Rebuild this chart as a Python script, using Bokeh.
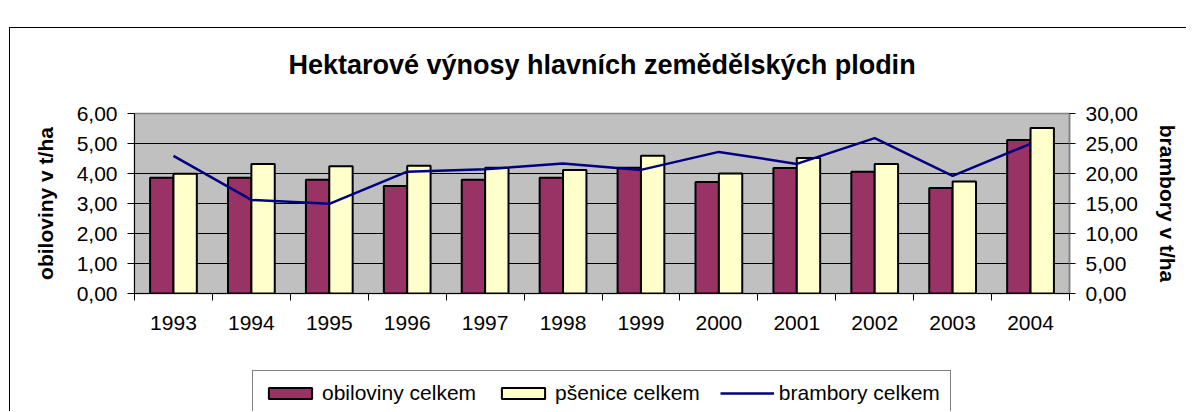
from bokeh.plotting import figure
from bokeh.layouts import column
from bokeh.models import (Range1d, LinearAxis, FixedTicker, CustomJSTickFormatter,
                          Legend, LegendItem, ColumnDataSource)
from bokeh.embed import file_html
from bokeh.resources import INLINE

years = ["1993", "1994", "1995", "1996", "1997", "1998",
         "1999", "2000", "2001", "2002", "2003", "2004"]
obiloviny = [3.86, 3.86, 3.79, 3.58, 3.79, 3.86, 4.19, 3.72, 4.18, 4.06, 3.52, 5.12]
psenice = [3.99, 4.32, 4.24, 4.26, 4.19, 4.12, 4.59, 4.00, 4.52, 4.32, 3.73, 5.52]
brambory = [22.95, 15.6, 14.95, 20.3, 20.7, 21.67, 20.6, 23.6, 21.6, 25.9, 19.6, 24.95]

left_ticks = [0, 1, 2, 3, 4, 5, 6]
right_ticks = [0, 5, 10, 15, 20, 25, 30]

pos = [i + 0.5 for i in range(len(years))]
src = ColumnDataSource(dict(
    x_o=[p - 0.15 for p in pos],
    x_p=[p + 0.15 for p in pos],
    x_c=pos,
    obiloviny=obiloviny,
    psenice=psenice,
    brambory=brambory,
))

FONT = "Liberation Sans"
C_OBI, C_PSE, C_BRA = "#993366", "#FFFFCC", "#000080"

p = figure(frame_width=935, frame_height=180,
           x_range=Range1d(0, len(years)), y_range=Range1d(0, 6),
           output_backend="svg", toolbar_location=None,
           min_border_left=125, min_border_right=117,
           min_border_top=105, min_border_bottom=55,
           background_fill_color="#C0C0C0", border_fill_alpha=0,
           outline_line_color="#808080", outline_line_width=1.5)

p.title.text = "Hektarové výnosy hlavních zemědělských plodin"
p.title.align = "center"
p.title.offset = 3
p.title.vertical_align = "bottom"
p.title.text_font = FONT
p.title.text_font_size = "27px"
p.title.text_font_style = "bold"
p.title.text_color = "black"
p.title.standoff = 68

comma_fmt = CustomJSTickFormatter(code="return tick.toFixed(2).replace('.', ',');")

# x axis
p.xaxis.ticker = FixedTicker(ticks=pos, minor_ticks=list(range(len(years) + 1)))
p.xaxis.formatter = CustomJSTickFormatter(args=dict(years=years),
                                          code="return years[Math.floor(tick)] || '';")
p.xaxis.major_tick_line_color = None
p.xaxis.major_tick_out = 0
p.xaxis.major_tick_in = 0
p.xaxis.minor_tick_line_color = "black"
p.xaxis.minor_tick_out = 7
p.xaxis.minor_tick_in = 0
p.xaxis.axis_line_color = "black"
p.xaxis.major_label_text_font = FONT
p.xaxis.major_label_text_font_size = "21px"
p.xaxis.major_label_text_color = "black"
p.xaxis.major_label_standoff = 15

# left axis
p.yaxis.ticker = FixedTicker(ticks=left_ticks)
p.yaxis.formatter = comma_fmt
p.yaxis.axis_label = "obiloviny v t/ha"
p.yaxis.axis_label_text_font = FONT
p.yaxis.axis_label_text_font_size = "21px"
p.yaxis.axis_label_text_font_style = "bold"
p.yaxis.axis_label_text_color = "black"
p.yaxis.axis_label_standoff = 17
p.yaxis.major_label_text_font = FONT
p.yaxis.major_label_text_font_size = "21px"
p.yaxis.major_label_text_color = "black"
p.yaxis.major_label_standoff = 10
p.yaxis.major_tick_out = 7
p.yaxis.major_tick_in = 0
p.yaxis.minor_tick_line_color = None
p.yaxis.axis_line_color = "black"

# right axis
p.extra_y_ranges = {"b": Range1d(0, 30)}
ax_r = LinearAxis(y_range_name="b", ticker=FixedTicker(ticks=right_ticks),
                  formatter=comma_fmt, axis_label="brambory v t/ha")
ax_r.axis_label_text_font = FONT
ax_r.axis_label_text_font_size = "21px"
ax_r.axis_label_text_font_style = "bold"
ax_r.axis_label_text_color = "black"
ax_r.axis_label_standoff = 15
ax_r.major_label_text_font = FONT
ax_r.major_label_text_font_size = "21px"
ax_r.major_label_text_color = "black"
ax_r.major_label_standoff = 10
ax_r.major_tick_out = 6
ax_r.major_tick_in = 0
ax_r.minor_tick_line_color = None
ax_r.axis_line_color = "#808080"
ax_r.axis_line_width = 1.5
p.add_layout(ax_r, "right")

p.xgrid.visible = False
p.ygrid.ticker = FixedTicker(ticks=[1, 2, 3, 4, 5])
p.ygrid.grid_line_color = "black"
p.ygrid.grid_line_width = 1

p.vbar(x="x_o", top="obiloviny", width=0.3, source=src,
       fill_color=C_OBI, line_color="black", line_width=2)
p.vbar(x="x_p", top="psenice", width=0.3, source=src,
       fill_color=C_PSE, line_color="black", line_width=2)
p.line(x="x_c", y="brambory", source=src, y_range_name="b",
       line_color=C_BRA, line_width=2.5)

# legend strip (separate canvas so the box is not clipped by the plot frame)
lg = figure(width=1177, height=63, x_range=Range1d(0, 1), y_range=Range1d(0, 1),
            x_axis_location=None, y_axis_location=None, min_border=0,
            toolbar_location=None, output_backend="svg",
            outline_line_color=None, background_fill_alpha=0, border_fill_alpha=0)
lg.title.visible = False
lg.grid.visible = False
# legend keys: style-only renderers with a single undrawable (NaN) row
key_src = ColumnDataSource(dict(x=[float("nan")], y=[float("nan")]))
k_o = lg.vbar(x="x", top="y", width=0.3, source=key_src,
              fill_color=C_OBI, line_color="black", line_width=2)
k_p = lg.vbar(x="x", top="y", width=0.3, source=key_src,
              fill_color=C_PSE, line_color="black", line_width=2)
k_b = lg.line(x="x", y="y", source=key_src, line_color=C_BRA, line_width=2.5)

legend = Legend(items=[LegendItem(label="obiloviny celkem", renderers=[k_o]),
                       LegendItem(label="pšenice celkem", renderers=[k_p]),
                       LegendItem(label="brambory celkem", renderers=[k_b])],
                orientation="horizontal", location=(118, -5), margin=0,
                padding=10, spacing=20, label_standoff=5,
                glyph_width=54, glyph_height=14,
                label_text_font=FONT, label_text_font_size="21px",
                label_text_color="black",
                border_line_color="black", border_line_width=1,
                background_fill_color="white", background_fill_alpha=1)
lg.add_layout(legend, "center")

layout = column(p, lg, spacing=0, margin=(8, 0, 0, 9))
# outer chart frame (top and left edges) drawn behind the transparent canvases
layout.styles = {
    "background-image": "linear-gradient(#000, #000), linear-gradient(#000, #000)",
    "background-size": "100% 1px, 1px 100%",
    "background-position": "0 19px, 0 19px",
    "background-repeat": "no-repeat",
}

open("out.html", "w").write(file_html(layout, INLINE))
